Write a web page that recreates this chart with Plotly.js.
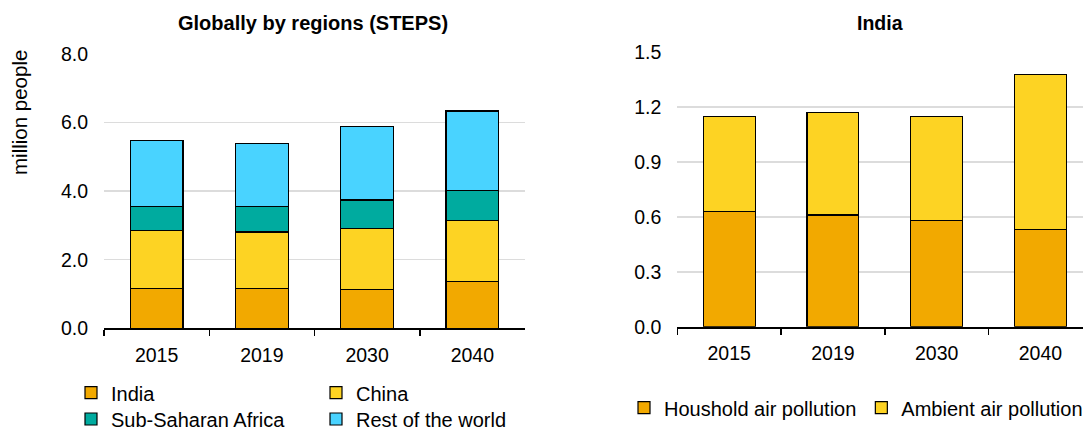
<!DOCTYPE html>
<html>
<head>
<meta charset="utf-8">
<script src="https://cdn.plot.ly/plotly-3.0.1.min.js"></script>
<style>html,body{margin:0;padding:0;background:#fff;}#chart{width:1083px;height:432px;}</style>
</head>
<body>
<div id="chart"></div>
<script>
// ---- Data ----
const years = ["2015", "2019", "2030", "2040"];
const india = [1.15, 1.17, 1.14, 1.37];
const china = [1.70, 1.64, 1.78, 1.77];
const subSaharanAfrica = [0.71, 0.74, 0.82, 0.87];
const restOfWorld = [1.91, 1.84, 2.14, 2.33];
const householdAir = [0.63, 0.61, 0.58, 0.53];
const ambientAir = [0.52, 0.56, 0.57, 0.85];
const leftTitle = "Globally by regions (STEPS)";
const rightTitle = "India";
const yTitle = "million people";

// ---- Styles ----
const FONT = "Liberation Sans, Arial, sans-serif";
const TICKFS = 19.5, LEGFS = 20, TITLEFS = 19.5, YTFS = 20.5;
const cIndia = "#F2A900", cChina = "#FDD323", cSSA = "#00AB9F", cRoW = "#49D3FF";
const line = {color: "#000000", width: 1.2};

function bar(name, y, color, xa, ya, legend) {
  return {type: "bar", name: name, x: years, y: y, xaxis: xa, yaxis: ya,
          legend: legend, marker: {color: color, line: line},
          hoverinfo: "x+y+name"};
}

const data = [
  bar("India", india, cIndia, "x", "y", "legend"),
  bar("China", china, cChina, "x", "y", "legend"),
  bar("Sub-Saharan Africa", subSaharanAfrica, cSSA, "x", "y", "legend2"),
  bar("Rest of the world", restOfWorld, cRoW, "x", "y", "legend2"),
  bar("Houshold air pollution", householdAir, cIndia, "x2", "y2", "legend3"),
  bar("Ambient air pollution", ambientAir, cChina, "x2", "y2", "legend3")
];

const W = 1083, H = 432;
const px = v => v / W, py = v => 1 - v / H;

const xCommon = {type: "category", showline: true, linecolor: "#000", linewidth: 2,
  ticks: "outside", tickson: "boundaries", ticklen: 6, tickwidth: 1.5, tickcolor: "#000",
  showgrid: false, zeroline: false, tickfont: {family: FONT, size: TICKFS, color: "#000"},
  ticklabelstandoff: 8, fixedrange: true};
const yCommon = {showgrid: true, gridcolor: "#DCDCDC", gridwidth: 1.5, zeroline: false,
  showline: false, ticks: "", tickformat: ".1f",
  tickfont: {family: FONT, size: TICKFS, color: "#000"}, ticklabelstandoff: 15, fixedrange: true};

const legendCommon = {orientation: "h", font: {family: FONT, size: LEGFS, color: "#000"},
  bgcolor: "rgba(0,0,0,0)", xanchor: "left", yanchor: "middle", traceorder: "normal",
  entrywidthmode: "pixels", itemclick: false, itemdoubleclick: false};

const layout = {
  width: W, height: H,
  margin: {l: 0, r: 0, t: 0, b: 0, autoexpand: false},
  paper_bgcolor: "#fff", plot_bgcolor: "#fff",
  barmode: "stack", bargap: 0.5,
  font: {family: FONT, size: TICKFS, color: "#000"},
  xaxis: Object.assign({}, xCommon, {domain: [px(104), px(525)], anchor: "y"}),
  yaxis: Object.assign({}, yCommon, {domain: [py(328.3), py(54)], range: [0, 8], dtick: 2, anchor: "x"}),
  xaxis2: Object.assign({}, xCommon, {domain: [px(677.3), 1], range: [-0.5, 3.41], anchor: "y2"}),
  yaxis2: Object.assign({}, yCommon, {domain: [py(326.7), py(52.2)], range: [0, 1.5], dtick: 0.3, anchor: "x2"}),
  legend: Object.assign({}, legendCommon, {x: px(71), y: py(392.7), entrywidth: 200}),
  legend2: Object.assign({}, legendCommon, {x: px(71), y: py(419), entrywidth: 200}),
  legend3: Object.assign({}, legendCommon, {x: px(624), y: py(407.7)}),
  showlegend: true,
  annotations: [
    {text: "<b>" + leftTitle + "</b>", xref: "paper", yref: "paper", x: px(313), y: py(23.5),
     xanchor: "center", yanchor: "middle", showarrow: false, font: {family: FONT, size: 20, color: "#000"}},
    {text: "<b>" + rightTitle + "</b>", xref: "paper", yref: "paper", x: px(880), y: py(23.5),
     xanchor: "center", yanchor: "middle", showarrow: false, font: {family: FONT, size: TITLEFS, color: "#000"}},
    {text: yTitle, xref: "paper", yref: "paper", x: px(19), y: py(113), textangle: -90,
     xanchor: "center", yanchor: "middle", showarrow: false, font: {family: FONT, size: YTFS, color: "#000"}}
  ]
};

Plotly.newPlot("chart", data, layout, {displayModeBar: false, staticPlot: true});
</script>
</body>
</html>
